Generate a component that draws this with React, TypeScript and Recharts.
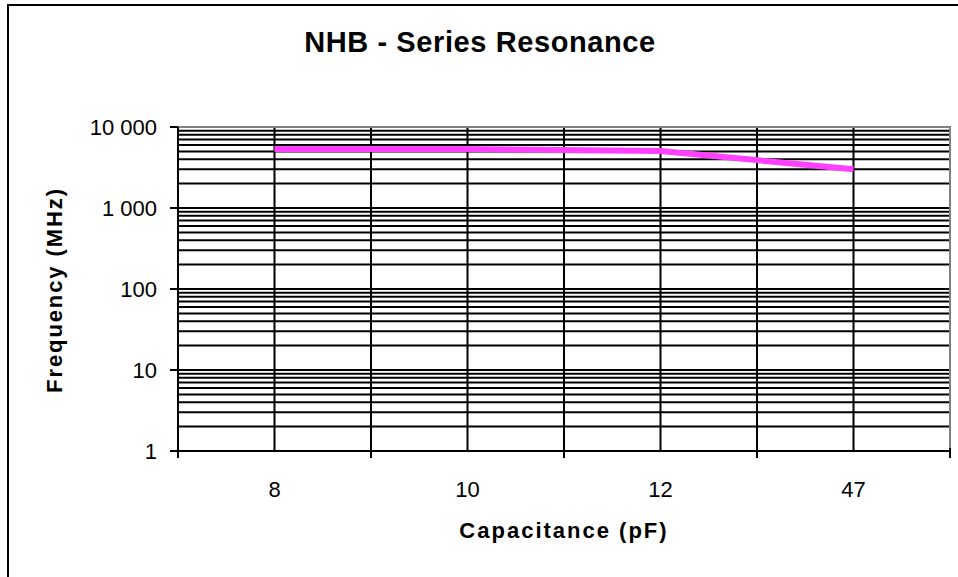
import React from 'react'
import { LineChart, Line, XAxis, YAxis, CartesianGrid, ReferenceArea } from 'recharts'

// capacitance categories (pF) and series resonance frequency (MHz)
const capacitance = ['8', '10', '12', '47']
const frequency = [5350, 5350, 5050, 3000]

const yTicks = [1, 10, 100, 1000, 10000]
const decades = [1, 10, 100, 1000]
const minorSteps = [1, 2, 3, 4, 5, 6, 7, 8, 9]

const data = capacitance.map((c, i) => ({ i, cap: c, freq: frequency[i] }))

// grid at every decade step, and at category centres + boundaries
const hLines = [...decades.flatMap(d => minorSteps.map(m => d * m)), 10000]
const xTicks = [-0.5, 0, 0.5, 1, 1.5, 2, 2.5, 3, 3.5]

const FONT = '"Liberation Sans", Arial, sans-serif'

const fmt = (v: number) => String(v).replace(/\B(?=(\d{3})+(?!\d))/g, ' ')

function XTick(props: any) {
  const { x, y, payload } = props
  const v = payload.value as number
  if (Number.isInteger(v)) {
    return (
      <text x={x} y={y + 46} textAnchor="middle" fill="#000" fontSize={22} fontFamily={FONT}>
        {capacitance[v]}
      </text>
    )
  }
  return <line x1={x} x2={x} y1={y - 3} y2={y + 7} stroke="#000" strokeWidth={2} />
}

export default function App() {
  return (
    <div style={{ position: 'fixed', left: 0, top: 0, width: 958, height: 577, overflow: 'hidden', background: '#fff', fontFamily: FONT }}>
      <div style={{ position: 'absolute', left: 7, top: 4, width: 1000, height: 700, border: '2px solid #000' }} />
      <div style={{ position: 'absolute', left: 0, top: 28, width: 960, textAlign: 'center', fontSize: 29, fontWeight: 'bold', lineHeight: '29px', letterSpacing: 0.6 }}>
        NHB - Series Resonance
      </div>
      <div style={{ position: 'absolute', left: 0, top: 0 }}>
        <LineChart width={958} height={577} data={data} margin={{ top: 127, right: 8, bottom: 0, left: 0 }}>
          <CartesianGrid stroke="#000" strokeWidth={2} horizontalValues={hLines} verticalValues={xTicks} />
          <ReferenceArea x1={-0.5} x2={3.5} y1={1} y2={10000} fill="none" stroke="#808080" strokeWidth={2} />
          <XAxis
            dataKey="i"
            type="number"
            domain={[-0.5, 3.5]}
            ticks={xTicks}
            interval={0}
            height={126}
            tickSize={0}
            tickMargin={0}
            tickLine={false}
            axisLine={{ stroke: '#000', strokeWidth: 2 }}
            tick={<XTick />}
          />
          <YAxis
            dataKey="freq"
            scale="log"
            domain={[1, 10000]}
            allowDataOverflow
            ticks={yTicks}
            interval={0}
            width={178}
            tickSize={8}
            tickMargin={13}
            tickFormatter={fmt}
            tickLine={{ stroke: '#000', strokeWidth: 2 }}
            axisLine={{ stroke: '#000', strokeWidth: 2 }}
            tick={{ fill: '#000', fontSize: 22, fontFamily: FONT }}
          />
          <Line type="linear" dataKey="freq" stroke="#ff40ff" strokeWidth={6} dot={false} isAnimationActive={false} />
        </LineChart>
      </div>
      <div style={{ position: 'absolute', left: 0, top: 520, width: 1128, textAlign: 'center', fontSize: 22, fontWeight: 'bold', lineHeight: '22px', letterSpacing: 2 }}>
        Capacitance (pF)
      </div>
      <div style={{ position: 'absolute', left: 55 - 150, top: 290 - 11, width: 300, textAlign: 'center', fontSize: 22, fontWeight: 'bold', lineHeight: '22px', letterSpacing: 1.9, transform: 'rotate(-90deg)' }}>
        Frequency (MHz)
      </div>
    </div>
  )
}
